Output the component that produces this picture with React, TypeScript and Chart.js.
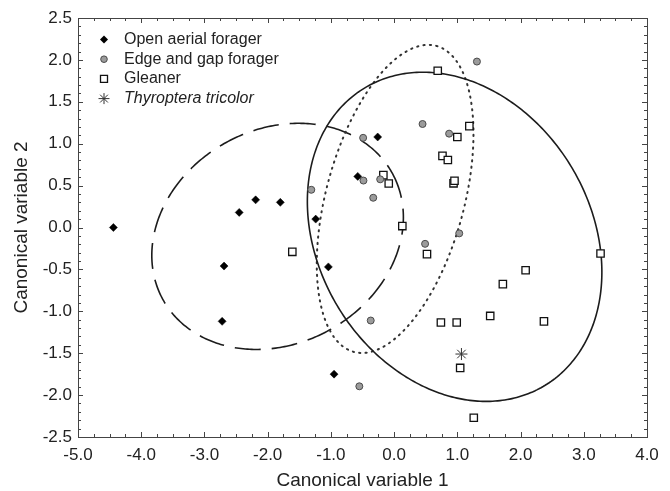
import React, { useEffect, useRef } from 'react';
import { Chart, registerables } from 'chart.js';

Chart.register(...registerables);

// ---- Data ----
const openAerialX = [-4.44, -2.45, -2.19, -1.8, -1.24, -2.69, -2.72, -1.04, -0.95, -0.575, -0.26];
const openAerialY = [0.0, 0.18, 0.33, 0.3, 0.1, -0.46, -1.12, -0.47, -1.75, 0.61, 1.08];

const edgeGapX = [-1.31, -0.49, -0.485, -0.22, -0.33, 0.45, 0.87, 1.31, 0.49, 1.03, -0.37, -0.55];
const edgeGapY = [0.45, 1.07, 0.56, 0.575, 0.355, 1.235, 1.12, 1.98, -0.195, -0.07, -1.11, -1.895];

const gleanerX = [-1.61, -0.17, -0.085, 0.13, 0.69, 1.19, 1.0, 0.765, 0.85, 0.94, 0.955, 0.52, 3.265, 2.08, 1.72, 1.52, 0.74, 0.99, 2.37, 1.045, 1.26];
const gleanerY = [-0.29, 0.625, 0.525, 0.017, 1.87, 1.21, 1.08, 0.855, 0.805, 0.527, 0.558, -0.318, -0.31, -0.51, -0.676, -1.055, -1.134, -1.134, -1.12, -1.676, -2.27];

const thyropteraX = [1.065];
const thyropteraY = [-1.51];

const seriesLabels = ['Open aerial forager', 'Edge and gap forager', 'Gleaner', 'Thyroptera tricolor'];

// Confidence ellipses: centre and two conjugate half-axis vectors (data units)
const ellipseCenterX = [-1.843, 0.016, 0.957];
const ellipseCenterY = [-0.106, 0.341, -0.111];
const ellipseAxis1X = [1.816, 0.652, 1.432];
const ellipseAxis1Y = [0.751, 1.826, -1.772];
const ellipseAxis2X = [0.813, 1.054, -1.837];
const ellipseAxis2Y = [-1.121, -0.215, -0.847];

const xTickValues = [-5, -4, -3, -2, -1, 0, 1, 2, 3, 4];
const xTickLabels = ['-5.0', '-4.0', '-3.0', '-2.0', '-1.0', '0.0', '1.0', '2.0', '3.0', '4.0'];
const yTickValues = [-2.5, -2, -1.5, -1, -0.5, 0, 0.5, 1, 1.5, 2, 2.5];
const yTickLabels = ['-2.5', '-2.0', '-1.5', '-1.0', '-0.5', '0.0', '0.5', '1.0', '1.5', '2.0', '2.5'];

const FONT = "'Liberation Sans', Arial, sans-serif";
const TEXT = '#222';

const toPoints = (xs: number[], ys: number[]) => xs.map((x, i) => ({ x, y: ys[i] }));

const ellipseStyles = [
  { dash: [26, 11], width: 1.6, color: '#1c1c1c', cap: 'butt' },
  { dash: [1.2, 5.2], width: 2, color: '#333', cap: 'round' },
  { dash: [], width: 1.6, color: '#1c1c1c', cap: 'butt' },
];

const ellipsePlugin = {
  id: 'ellipses',
  beforeDatasetsDraw(chart: any) {
    const { ctx, chartArea, scales } = chart;
    const xs = scales.x;
    const ys = scales.y;
    ctx.save();
    ctx.beginPath();
    ctx.rect(chartArea.left, chartArea.top, chartArea.right - chartArea.left, chartArea.bottom - chartArea.top);
    ctx.clip();
    for (let i = 0; i < ellipseCenterX.length; i++) {
      const st = ellipseStyles[i];
      ctx.beginPath();
      const n = 360;
      for (let k = 0; k <= n; k++) {
        const t = (k / n) * Math.PI * 2;
        const dx = ellipseCenterX[i] + Math.cos(t) * ellipseAxis1X[i] + Math.sin(t) * ellipseAxis2X[i];
        const dy = ellipseCenterY[i] + Math.cos(t) * ellipseAxis1Y[i] + Math.sin(t) * ellipseAxis2Y[i];
        const px = xs.getPixelForValue(dx);
        const py = ys.getPixelForValue(dy);
        if (k === 0) ctx.moveTo(px, py);
        else ctx.lineTo(px, py);
      }
      ctx.setLineDash(st.dash);
      ctx.lineCap = st.cap;
      ctx.lineWidth = st.width;
      ctx.strokeStyle = st.color;
      ctx.stroke();
    }
    ctx.restore();
  },
};

const framePlugin = {
  id: 'frame',
  afterDraw(chart: any) {
    const { ctx, chartArea, scales } = chart;
    const xs = scales.x;
    const ys = scales.y;
    const { left, right, top, bottom } = chartArea;
    ctx.save();
    ctx.strokeStyle = '#444';
    ctx.lineWidth = 1;
    ctx.setLineDash([]);
    ctx.strokeRect(Math.round(left) + 0.5, Math.round(top) + 0.5, Math.round(right - left), Math.round(bottom - top));
    ctx.beginPath();
    // x ticks every 0.25, inward, on bottom and top
    for (let k = 0; k <= 36; k++) {
      const v = -5 + k * 0.25;
      const px = Math.round(xs.getPixelForValue(v)) + 0.5;
      const len = k % 4 === 0 ? 5 : 3;
      ctx.moveTo(px, bottom);
      ctx.lineTo(px, bottom - len);
      ctx.moveTo(px, top);
      ctx.lineTo(px, top + len);
    }
    // y ticks every 0.1, inward, on left and right
    for (let k = 0; k <= 50; k++) {
      const v = -2.5 + k * 0.1;
      const py = Math.round(ys.getPixelForValue(v)) + 0.5;
      const len = k % 5 === 0 ? 5 : 3;
      ctx.moveTo(left, py);
      ctx.lineTo(left + len, py);
      ctx.moveTo(right, py);
      ctx.lineTo(right - len, py);
    }
    ctx.stroke();
    ctx.restore();
  },
};

function drawMarker(ctx: CanvasRenderingContext2D, kind: number, x: number, y: number) {
  ctx.save();
  ctx.setLineDash([]);
  ctx.beginPath();
  if (kind === 0) {
    const r = 4;
    ctx.moveTo(x - r, y);
    ctx.lineTo(x, y - r);
    ctx.lineTo(x + r, y);
    ctx.lineTo(x, y + r);
    ctx.closePath();
    ctx.fillStyle = '#000';
    ctx.fill();
  } else if (kind === 1) {
    ctx.arc(x, y, 3.3, 0, Math.PI * 2);
    ctx.fillStyle = '#9b9b9b';
    ctx.fill();
    ctx.lineWidth = 1;
    ctx.strokeStyle = '#4a4a4a';
    ctx.stroke();
  } else if (kind === 2) {
    const h = 3.5;
    ctx.rect(x - h, y - h, 2 * h, 2 * h);
    ctx.fillStyle = '#fff';
    ctx.fill();
    ctx.lineWidth = 1.3;
    ctx.strokeStyle = '#111';
    ctx.stroke();
  } else {
    const r = 5.5;
    for (let a = 0; a < 4; a++) {
      const ang = (a * Math.PI) / 4;
      ctx.moveTo(x - Math.cos(ang) * r, y - Math.sin(ang) * r);
      ctx.lineTo(x + Math.cos(ang) * r, y + Math.sin(ang) * r);
    }
    ctx.lineWidth = 1;
    ctx.strokeStyle = '#333';
    ctx.stroke();
  }
  ctx.restore();
}

const legendPlugin = {
  id: 'customLegend',
  afterDraw(chart: any) {
    const { ctx, chartArea } = chart;
    const mx = chartArea.left + 26;
    const tx = chartArea.left + 46;
    ctx.save();
    ctx.textBaseline = 'middle';
    ctx.textAlign = 'left';
    ctx.fillStyle = TEXT;
    for (let i = 0; i < seriesLabels.length; i++) {
      const y = chartArea.top + 21.5 + i * 19.7;
      drawMarker(ctx, i, mx, y);
      ctx.font = (i === 3 ? 'italic ' : '') + '16px ' + FONT;
      ctx.fillStyle = TEXT;
      ctx.fillText(seriesLabels[i], tx, y);
    }
    ctx.restore();
  },
};

export default function App() {
  const ref = useRef<HTMLCanvasElement | null>(null);

  useEffect(() => {
    if (!ref.current) return;
    const chart = new Chart(ref.current, {
      type: 'scatter',
      data: {
        datasets: [
          {
            label: seriesLabels[1],
            data: toPoints(edgeGapX, edgeGapY),
            pointStyle: 'circle',
            pointRadius: 3.5,
            backgroundColor: '#9b9b9b',
            borderColor: '#4a4a4a',
            borderWidth: 1,
          },
          {
            label: seriesLabels[2],
            data: toPoints(gleanerX, gleanerY),
            pointStyle: 'rect',
            pointRadius: 5.2,
            backgroundColor: '#ffffff',
            borderColor: '#111',
            borderWidth: 1.3,
          },
          {
            label: seriesLabels[0],
            data: toPoints(openAerialX, openAerialY),
            pointStyle: 'rectRot',
            pointRadius: 4,
            backgroundColor: '#000',
            borderColor: '#000',
            borderWidth: 0.5,
          },
          {
            label: seriesLabels[3],
            data: toPoints(thyropteraX, thyropteraY),
            pointStyle: 'star',
            pointRadius: 6,
            backgroundColor: '#333',
            borderColor: '#333',
            borderWidth: 1,
          },
        ],
      },
      options: {
        responsive: false,
        animation: false,
        events: [],
        layout: { padding: { top: 18, right: 23, left: 0, bottom: 0 } },
        plugins: {
          legend: { display: false },
          tooltip: { enabled: false },
        },
        scales: {
          x: {
            type: 'linear',
            min: -5,
            max: 4,
            afterBuildTicks: (s: any) => {
              s.ticks = xTickValues.map((v) => ({ value: v }));
            },
            afterFit: (s: any) => {
              s.height = 54;
            },
            grid: { display: false, drawTicks: false },
            border: { display: false },
            ticks: {
              padding: 8,
              color: TEXT,
              font: { family: FONT, size: 17 },
              maxRotation: 0,
              autoSkip: false,
              callback: (_v: any, i: number) => xTickLabels[i],
            },
            title: {
              display: true,
              text: 'Canonical variable 1',
              color: TEXT,
              font: { family: FONT, size: 19, lineHeight: 1.1 },
              padding: { top: 0, bottom: 0 },
            },
          },
          y: {
            type: 'linear',
            min: -2.5,
            max: 2.5,
            afterBuildTicks: (s: any) => {
              s.ticks = yTickValues.map((v) => ({ value: v }));
            },
            afterFit: (s: any) => {
              s.width = 78;
            },
            grid: { display: false, drawTicks: false },
            border: { display: false },
            ticks: {
              padding: 6,
              color: TEXT,
              font: { family: FONT, size: 17 },
              autoSkip: false,
              callback: (_v: any, i: number) => yTickLabels[i],
            },
            title: {
              display: true,
              text: 'Canonical variable 2',
              color: TEXT,
              font: { family: FONT, size: 19, lineHeight: 1.1 },
              padding: { top: 11, bottom: 0 },
            },
          },
        },
      },
      plugins: [ellipsePlugin, framePlugin, legendPlugin],
    });
    return () => chart.destroy();
  }, []);

  return (
    <div style={{ position: 'fixed', left: 0, top: 0, width: 670, height: 491, background: '#fff' }}>
      <canvas ref={ref} width={670} height={491} style={{ display: 'block', width: 670, height: 491 }} />
    </div>
  );
}
